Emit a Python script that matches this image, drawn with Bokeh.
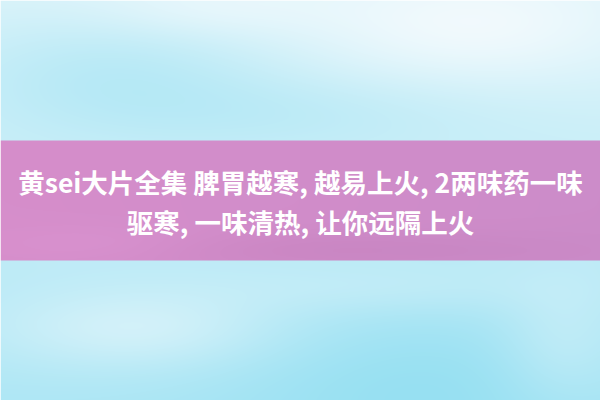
import numpy as np
from bokeh.plotting import figure
from bokeh.models import Range1d
from bokeh.core.properties import value
from bokeh.embed import file_html
from bokeh.resources import INLINE

# ---- content ----
title_lines = ["黄sei大片全集 脾胃越寒, 越易上火, 2两味药一味",
               "驱寒, 一味清热, 让你远隔上火"]
line_y_img = [181, 221]          # vertical centres (image pixels from top)
band_top, band_bottom = 140, 260  # banner band (image pixels from top)

W, H = 600, 400
p = figure(width=W, height=H, x_range=Range1d(0, W), y_range=Range1d(0, H),
           output_backend="svg", toolbar_location=None, min_border=0)
p.axis.visible = False
p.grid.visible = False
p.outline_line_color = None
p.background_fill_color = "white"
p.border_fill_color = "white"

# ---- decorative background (sky-like light blue wash + pink band) ----
xs = np.arange(0, W) + 0.5
ys = np.arange(0, H) + 0.5
X, Y = np.meshgrid(xs, ys)

def blob(cx, cy, rx, ry):
    return np.exp(-(((X - cx) / rx) ** 2 + ((Y - cy) / ry) ** 2))

w = 0.30 + 0.45 * np.clip(Y / 400.0, 0, 1)
w += 0.25 * blob(110, 70, 160, 60)
w += 0.15 * blob(300, 110, 200, 40)
w -= 0.25 * blob(470, 30, 170, 60)
w -= 0.15 * blob(200, 10, 120, 30)
w += 0.25 * blob(420, 380, 200, 90)
w -= 0.30 * blob(140, 330, 140, 40)
w -= 0.20 * blob(560, 345, 60, 60)
w -= 0.12 * blob(380, 290, 180, 25)
w = np.clip(w, 0, 1)

white = np.array([249, 252, 254], dtype=float)
cyan = np.array([150, 224, 242], dtype=float)
rgb = white[None, None, :] * (1 - w[..., None]) + cyan[None, None, :] * w[..., None]

band = (Y >= band_top) & (Y < band_bottom)
t = X / float(W)
pink_l = np.array([214, 142, 203], dtype=float)
pink_r = np.array([204, 140, 201], dtype=float)
pink = pink_l[None, None, :] * (1 - t[..., None]) + pink_r[None, None, :] * t[..., None]
pink = pink - 6 * blob(330, 250, 250, 20)[..., None] + 5 * blob(100, 245, 120, 20)[..., None]
rgb[band] = pink[band]

img = np.empty((H, W), dtype=np.uint32)
view = img.view(dtype=np.uint8).reshape((H, W, 4))
view[..., :3] = np.clip(rgb, 0, 255).astype(np.uint8)
view[..., 3] = 255
img = img[::-1].copy()

p.image_rgba(image=[img], x=0, y=0, dw=W, dh=H)

# ---- banner text ----
p.text(x=[300] * len(title_lines), y=[H - v for v in line_y_img], text=title_lines,
       text_color="white", text_font=value("Noto Sans CJK SC"), text_font_style="bold",
       text_font_size="26.5px", text_align="center", text_baseline="middle")

open("out.html", "w").write(file_html(p, INLINE))
